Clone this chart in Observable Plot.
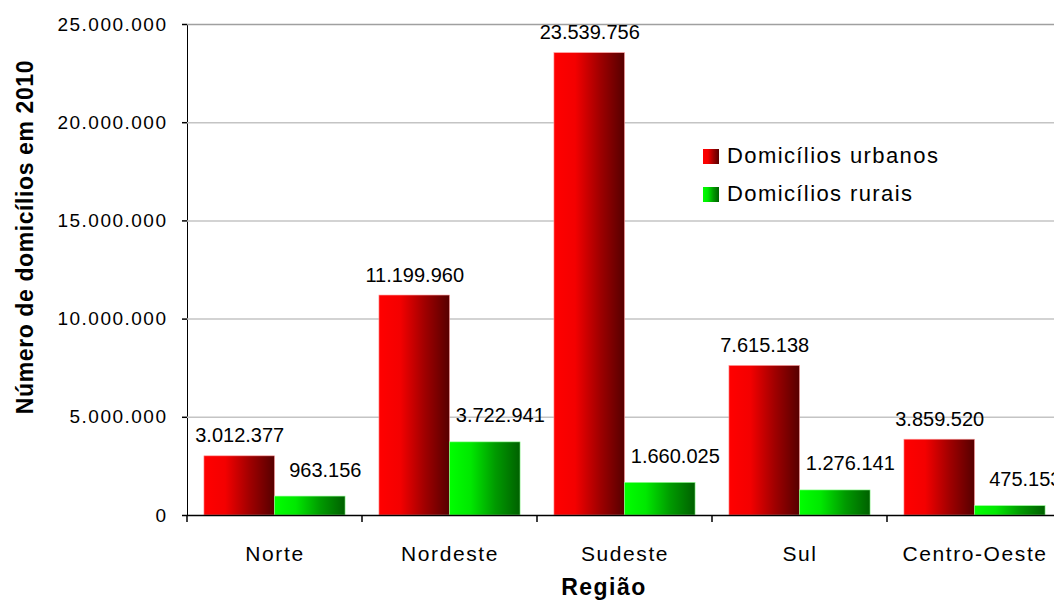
<!DOCTYPE html>
<html>
<head>
<meta charset="utf-8">
<script src="https://cdn.jsdelivr.net/npm/d3@7"></script>
<script src="https://cdn.jsdelivr.net/npm/@observablehq/plot@0.6"></script>
<style>
  html, body { margin: 0; padding: 0; background: #fff; overflow: hidden; }
  #wrap { position: relative; width: 1054px; height: 601px; font-family: "Liberation Sans", Arial, sans-serif; color: #000; }
  #wrap svg { position: absolute; left: 0; top: 0; }
  .ytitle { position: absolute; left: 25px; top: 237px; transform: translate(-50%, -50%) rotate(-90deg); font-weight: bold; font-size: 23px; letter-spacing: 0.6px; white-space: nowrap; }
  .xtitle { position: absolute; left: 604px; top: 574px; transform: translateX(-50%); font-weight: bold; font-size: 23px; letter-spacing: 1.5px; white-space: nowrap; }
  .legend { position: absolute; left: 703px; top: 137px; font-size: 22px; letter-spacing: 1.4px; }
  .legend .item { display: flex; align-items: center; height: 38px; }
  .legend .sw { width: 16px; height: 15px; margin-right: 8px; }
</style>
</head>
<body>
<div id="wrap"></div>
<script>
// ---- data ----
const regions = ["Norte", "Nordeste", "Sudeste", "Sul", "Centro-Oeste"];
const series = ["Domicílios urbanos", "Domicílios rurais"];
const urbanos = [3012377, 11199960, 23539756, 7615138, 3859520];
const rurais = [963156, 3722941, 1660025, 1276141, 475153];
const yTicks = [0, 5000000, 10000000, 15000000, 20000000, 25000000];
const yTitle = "Número de domicílios em 2010";
const xTitle = "Região";

// ---- table ----
const values = [urbanos, rurais];
const table = [];
series.forEach((s, si) => regions.forEach((r, ri) => table.push({region: r, series: s, value: values[si][ri]})));

const fmt = d3.formatLocale({decimal: ",", thousands: ".", grouping: [3], currency: ["R$", ""]}).format(",d");

// ---- layout ----
const W = 1054, H = 601;
const mL = 187, mR = -8, mT = 24, mB = 86;
const step = (W - mL - mR) / regions.length;
const inner = d3.scaleBand().domain(series).range([0, step]).paddingOuter(0.24).paddingInner(0);
const bw = inner.bandwidth();
const fills = ["url(#gRed)", "url(#gGreen)"];
const labelDx = [0, 15];
const labelDy = [-14, -20];

const gradients = () => {
  const g = d3.create("svg:defs");
  const mk = (id, stops) => {
    const lg = g.append("linearGradient").attr("id", id).attr("x1", "0").attr("x2", "1").attr("y1", "0").attr("y2", "0");
    stops.forEach(([o, c]) => lg.append("stop").attr("offset", o).attr("stop-color", c));
  };
  mk("gRed", [[0, "#ff0000"], [0.3, "#f40000"], [0.65, "#a00000"], [1, "#560000"]]);
  mk("gGreen", [[0, "#00ff00"], [0.3, "#00e800"], [0.65, "#009a00"], [1, "#006000"]]);
  return g.node();
};

const boundaryTicks = (index, scales) => {
  const x = scales.x, y = scales.y;
  const g = d3.create("svg:g").attr("stroke", "#000").attr("stroke-width", 1.5);
  const y0 = y(0);
  const xs = regions.map(r => x(r));
  xs.push(xs[xs.length - 1] + step);
  xs.forEach(px => g.append("line").attr("x1", px).attr("x2", px).attr("y1", y0).attr("y2", y0 + 7));
  return g.node();
};

const marks = [
  gradients,
  Plot.ruleY(yTicks.slice(1), {stroke: d => d === 25000000 ? "#a0a0a0" : "#c4c4c4", strokeWidth: 1.5}),
];
series.forEach((s, si) => {
  const d = table.filter(t => t.series === s);
  const left = inner(s);
  marks.push(Plot.barY(d, {
    x: "region", y: "value", fill: fills[si],
    insetLeft: left, insetRight: step - left - bw,
    stroke: si === 0 ? "#ff9a9a" : "#90ff90", strokeWidth: 0.6
  }));
});
series.forEach((s, si) => {
  const d = table.filter(t => t.series === s);
  const left = inner(s);
  marks.push(Plot.text(d, {
    x: "region", y: "value", text: t => fmt(t.value),
    dx: left + bw / 2 - step / 2 + labelDx[si], dy: labelDy[si],
    lineAnchor: "bottom", fontSize: 20, fill: "#000",
    style: "letter-spacing:1.3px"
  }));
});
marks.push(Plot.ruleY([0], {stroke: "#000", strokeWidth: 1.5}));
marks.push(boundaryTicks);

const chart = Plot.plot({
  width: W, height: H,
  marginLeft: mL, marginRight: mR, marginTop: mT, marginBottom: mB,
  style: {fontFamily: "'Liberation Sans', Arial, sans-serif", background: "transparent", overflow: "visible"},
  x: {domain: regions, padding: 0, tickSize: 0, tickPadding: 31, label: null},
  y: {domain: [0, 25000000], ticks: yTicks, tickFormat: fmt, tickSize: 5, tickPadding: 15, label: null, line: true},
  marks
});
chart.querySelectorAll("g[aria-label='x-axis'] text, g[aria-label='x-axis tick label'] text").forEach(t => { t.setAttribute("font-size", 21); t.style.letterSpacing = "1.6px"; });
chart.querySelectorAll("g[aria-label='y-axis'] text, g[aria-label='y-axis tick label'] text").forEach(t => { t.setAttribute("font-size", 19); t.style.letterSpacing = "1.5px"; });
chart.querySelectorAll("g[aria-label='y-axis'] line, g[aria-label='y-axis tick'] line, g[aria-label='y-axis tick'] path").forEach(t => { t.setAttribute("stroke-width", 1.5); });

const wrap = document.getElementById("wrap");
wrap.appendChild(chart);

const yt = document.createElement("div"); yt.className = "ytitle"; yt.textContent = yTitle; wrap.appendChild(yt);
const xt = document.createElement("div"); xt.className = "xtitle"; xt.textContent = xTitle; wrap.appendChild(xt);

const leg = document.createElement("div"); leg.className = "legend";
const swatchBg = ["linear-gradient(to right, #ff0000, #f40000 30%, #a00000 65%, #560000)", "linear-gradient(to right, #00ff00, #00e800 30%, #009a00 65%, #006000)"];
series.forEach((s, si) => {
  const it = document.createElement("div"); it.className = "item";
  const sw = document.createElement("span"); sw.className = "sw"; sw.style.background = swatchBg[si];
  const tx = document.createElement("span"); tx.textContent = s;
  it.appendChild(sw); it.appendChild(tx); leg.appendChild(it);
});
wrap.appendChild(leg);
</script>
</body>
</html>
